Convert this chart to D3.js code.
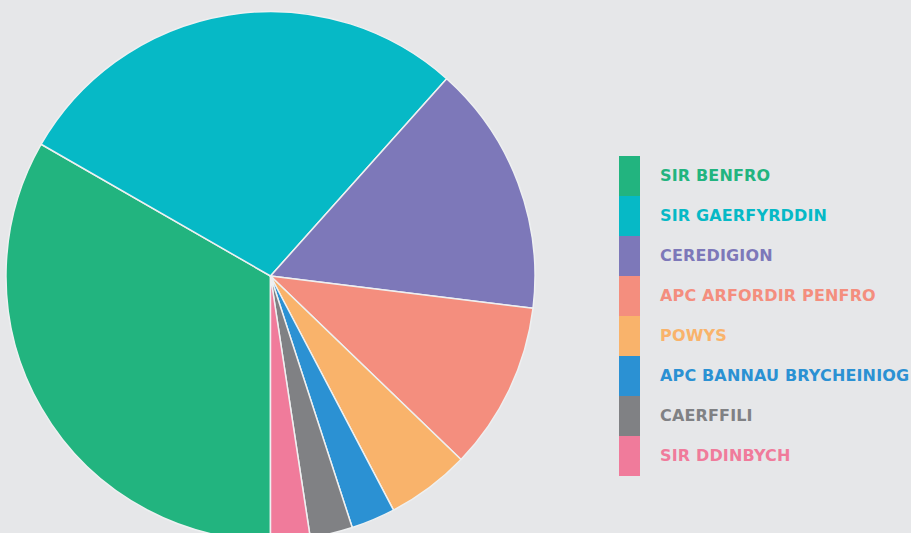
<!DOCTYPE html>
<html>
<head>
<meta charset="utf-8">
<script src="https://cdn.jsdelivr.net/npm/d3@7"></script>
<style>
  html, body { margin: 0; padding: 0; background: #e6e7e9; }
  svg { display: block; }
</style>
</head>
<body>
<svg id="chart"></svg>
<script>
const categories = [
  "SIR BENFRO",
  "SIR GAERFYRDDIN",
  "CEREDIGION",
  "APC ARFORDIR PENFRO",
  "POWYS",
  "APC BANNAU BRYCHEINIOG",
  "CAERFFILI",
  "SIR DDINBYCH"
];
const values = [33.3, 28.3, 15.35, 10.25, 5.1, 2.7, 2.6, 2.4];
const colours = ["#22b47f", "#06b9c6", "#7d78b9", "#f48e7e", "#f9b36b", "#2b91d3", "#808184", "#f07b9b"];

const sizes = {
  width: 911,
  height: 533,
  pie: { cx: 270.5, cy: 276, r: 264.5 },
  legend: { x: 619, y: 156, swatchW: 21, swatchH: 40, textX: 660 }
};

const svg = d3.select("#chart")
  .attr("width", sizes.width)
  .attr("height", sizes.height);

svg.append("rect")
  .attr("width", sizes.width)
  .attr("height", sizes.height)
  .attr("fill", "#e6e7e9");

const colour = d3.scaleOrdinal().domain(categories).range(colours);

const pie = d3.pie()
  .sort(null)
  .startAngle(Math.PI)
  .endAngle(3 * Math.PI)
  .value(d => d.value);

const arc = d3.arc()
  .innerRadius(0)
  .outerRadius(sizes.pie.r);

const slices = categories.map((c, i) => ({ name: c, value: values[i] }));

svg.append("g")
  .attr("transform", `translate(${sizes.pie.cx},${sizes.pie.cy})`)
  .selectAll("path")
  .data(pie(slices))
  .join("path")
  .attr("d", arc)
  .attr("fill", d => colour(d.data.name))
  .attr("stroke", "#eef0f1")
  .attr("stroke-width", 1.5)
  .attr("stroke-linejoin", "round");

// legend
const y = d3.scaleBand()
  .domain(categories)
  .range([sizes.legend.y, sizes.legend.y + sizes.legend.swatchH * categories.length])
  .padding(0);

const legend = svg.append("g");

legend.selectAll("rect")
  .data(categories)
  .join("rect")
  .attr("x", sizes.legend.x)
  .attr("y", d => y(d))
  .attr("width", sizes.legend.swatchW)
  .attr("height", y.bandwidth())
  .attr("fill", d => colour(d));

legend.selectAll("text")
  .data(categories)
  .join("text")
  .attr("x", sizes.legend.textX)
  .attr("y", d => y(d) + 24.5)
  .attr("fill", d => colour(d))
  .style("font-family", "'DejaVu Sans', sans-serif")
  .style("font-weight", "bold")
  .style("font-size", "16px")
  .style("letter-spacing", "0.15px")
  .text(d => d);
</script>
</body>
</html>
